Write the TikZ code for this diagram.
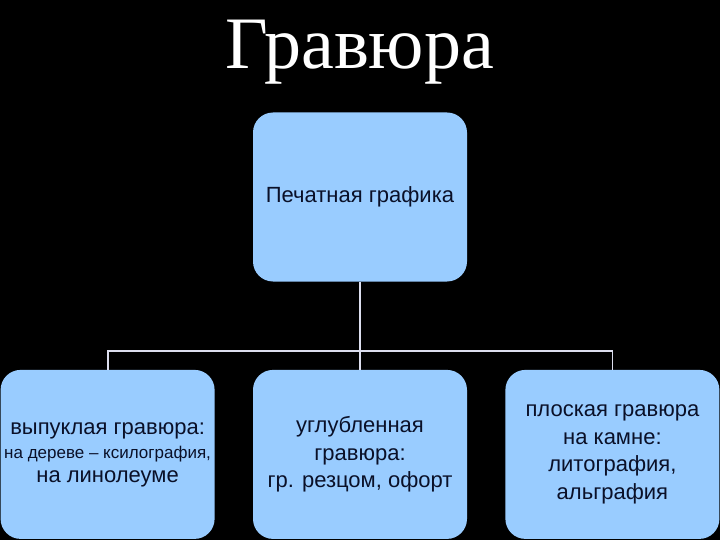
\documentclass[tikz,border=0pt]{standalone}
\usepackage{fontspec}
\setmainfont{Liberation Sans}
\newfontfamily\titlefont{Liberation Serif}
\usepackage{xcolor}
\usetikzlibrary{positioning}

\definecolor{boxblue}{RGB}{153,204,255}
\definecolor{boxtext}{RGB}{10,16,40}
\definecolor{linkgray}{RGB}{220,222,238}

\begin{document}
\begin{tikzpicture}[
    x=1pt, y=-1pt,
    node distance=88pt and 38pt,
    kind/.style={rectangle, rounded corners=20pt, fill=boxblue, align=center, text=boxtext,
        minimum width=214pt, minimum height=169pt, inner sep=0pt, font=\fontsize{22}{27.5}\selectfont},
    link/.style={draw=linkgray, line width=1.8pt}
]

% Background
\fill[black] (0,0) rectangle (720,540);
\useasboundingbox (0,0) rectangle (720,540);

% Nodes
\node[text=white, font=\titlefont\fontsize{74}{74}\selectfont] (title) at (360,52) {Гравюра};
\node[kind, font=\fontsize{22}{26}\selectfont] (print) at (360,197) {Печатная графика};
\node[kind, below=of print] (deep) {углубленная\\гравюра:\\гр. резцом, офорт};
\node[kind, left=of deep, font=\fontsize{22}{24}\selectfont] (relief) {выпуклая гравюра:\\{\fontsize{17}{24}\selectfont на дереве -- ксилография,}\\на линолеуме};
\node[kind, right=of deep] (flat) {плоская гравюра\\на камне:\\литография,\\альграфия};
\coordinate (bus) at (360,351);

% Edges
\draw[link] (print) -- (deep);
\draw[link] (relief.north) |- (bus) -| (flat.north);

\end{tikzpicture}
\end{document}
